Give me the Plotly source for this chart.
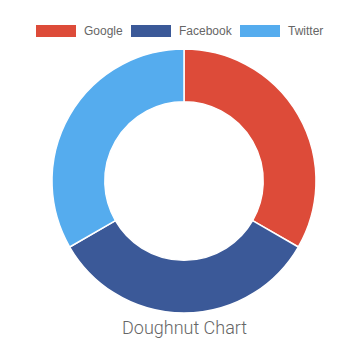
import plotly.graph_objects as go

labels = ["Google", "Facebook", "Twitter"]
values = [100, 100, 100]
colors = ["#DD4B39", "#3B5998", "#55ACEE"]
title_text = "Doughnut Chart"

W, H = 353, 355

fig = go.Figure(go.Pie(
    labels=labels, values=values, sort=False, direction="clockwise", rotation=0,
    hole=0.6, textinfo="none", hoverinfo="label+value",
    marker=dict(colors=colors, line=dict(color="#ffffff", width=1.5)),
    domain=dict(x=[52 / W, 316 / W], y=[(H - 313) / H, (H - 49) / H]),
    showlegend=False,
))

# custom legend (Chart.js style wide boxes)
legend_x = [36, 131, 240]
shapes, annotations = [], []
for lab, col, x0 in zip(labels, colors, legend_x):
    shapes.append(dict(type="rect", xref="paper", yref="paper",
                       x0=x0 / W, x1=(x0 + 40) / W, y0=(H - 37) / H, y1=(H - 25) / H,
                       fillcolor=col, line=dict(width=0)))
    annotations.append(dict(text=lab, xref="paper", yref="paper", x=(x0 + 46) / W,
                            y=(H - 30.5) / H, xanchor="left", yanchor="middle", showarrow=False,
                            font=dict(family="Liberation Sans, Arial, sans-serif", size=12,
                                      color="#666666")))

annotations.append(dict(text=title_text, xref="paper", yref="paper", x=184 / W, y=(H - 327) / H,
                        xanchor="center", yanchor="middle", showarrow=False,
                        font=dict(family="Roboto", size=18, color="#666666", weight=300)))

fig.update_layout(width=W, height=H, margin=dict(l=0, r=0, t=0, b=0),
                  paper_bgcolor="white", plot_bgcolor="white",
                  shapes=shapes, annotations=annotations)

fig.write_html("out.html")
